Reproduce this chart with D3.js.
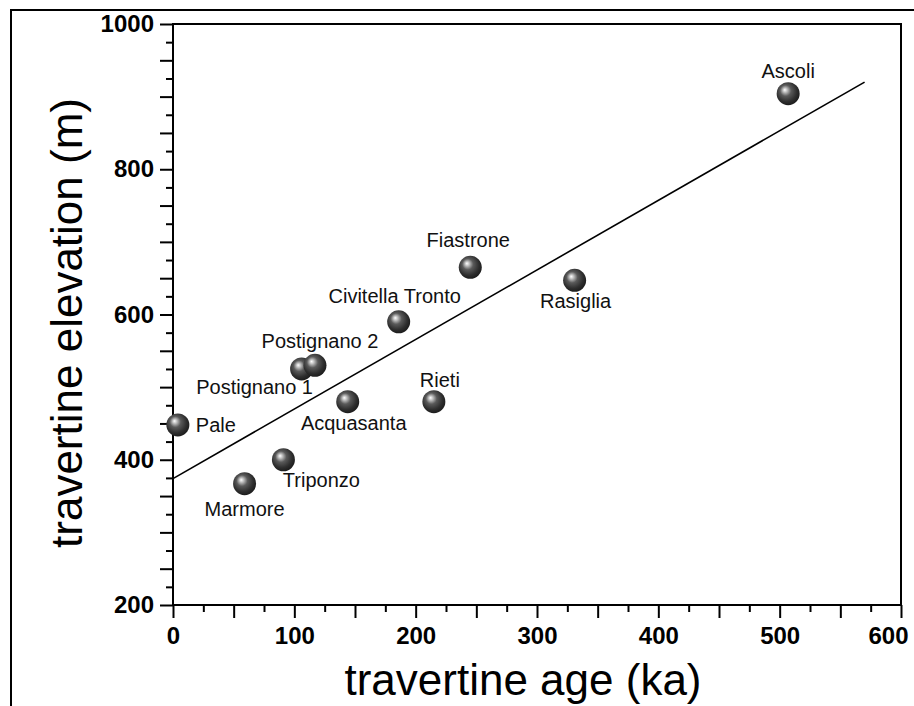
<!DOCTYPE html>
<html>
<head>
<meta charset="utf-8">
<script src="https://cdn.jsdelivr.net/npm/d3@7"></script>
<style>
  body { margin: 0; background: #fff; }
  svg { display: block; font-family: "Liberation Sans", Arial, sans-serif; }
</style>
</head>
<body>
<script>
// travertine sites: age (ka) vs elevation (m)
const sites = ["Pale", "Marmore", "Triponzo", "Postignano 1", "Postignano 2", "Acquasanta",
               "Civitella Tronto", "Rieti", "Fiastrone", "Rasiglia", "Ascoli"];
const ages = [4, 59, 91, 106, 117, 144, 186, 215, 245, 331, 507];
const elevations = [448, 367, 400, 525, 530, 480, 590, 480, 665, 647, 904];

// fitted line at its two ends
const fitAges = [0, 570];
const fitElevations = [374, 920];

const xTickLabels = [0, 100, 200, 300, 400, 500, 600];
const yTickLabels = [200, 400, 600, 800, 1000];

// label placement relative to each point (px), kept apart from the data
const labelPlace = {
  "Pale":             {dx: 18,  dy: 7,   anchor: "start"},
  "Marmore":          {dx: 0,   dy: 32,  anchor: "middle"},
  "Triponzo":         {dx: 38,  dy: 27,  anchor: "middle"},
  "Postignano 1":     {dx: -47, dy: 25,  anchor: "middle"},
  "Postignano 2":     {dx: 5,   dy: -17, anchor: "middle"},
  "Acquasanta":       {dx: 6,   dy: 28,  anchor: "middle"},
  "Civitella Tronto": {dx: -4,  dy: -19, anchor: "middle"},
  "Rieti":            {dx: 6,   dy: -15, anchor: "middle"},
  "Fiastrone":        {dx: -2,  dy: -20, anchor: "middle"},
  "Rasiglia":         {dx: 1,   dy: 28,  anchor: "middle"},
  "Ascoli":           {dx: 0,   dy: -16, anchor: "middle"}
};

const width = 914, height = 706;
const plotLeft = 173, plotRight = 901, plotTop = 24, plotBottom = 605;

const svg = d3.select("body").append("svg")
    .attr("width", width)
    .attr("height", height);

const x = d3.scaleLinear().domain([0, 600]).range([plotLeft, plotRight]);
const y = d3.scaleLinear().domain([200, 1000]).range([plotBottom, plotTop]);

// outer frame (only top and left edges show)
svg.append("path")
    .attr("d", `M11,706V10H914`)
    .attr("fill", "none")
    .attr("stroke", "#000")
    .attr("stroke-width", 2);

// gradient for the spheres
const grad = svg.append("defs").append("radialGradient")
    .attr("id", "ball")
    .attr("cx", "0.45").attr("cy", "0.42").attr("r", "0.6")
    .attr("fx", "0.35").attr("fy", "0.33");
grad.selectAll("stop")
  .data([[0, "#ffffff"], [0.12, "#d0d0d0"], [0.4, "#5a5a5a"], [0.75, "#2e2e2e"], [1, "#1a1a1a"]])
  .join("stop")
    .attr("offset", d => d[0])
    .attr("stop-color", d => d[1]);

// plot box
svg.append("rect")
    .attr("x", plotLeft).attr("y", plotTop)
    .attr("width", plotRight - plotLeft).attr("height", plotBottom - plotTop)
    .attr("fill", "none")
    .attr("stroke", "#000")
    .attr("stroke-width", 2);

const styleAxis = g => {
  g.select(".domain").remove();
  g.selectAll(".tick line").attr("stroke-width", 2);
  g.selectAll(".tick text")
      .attr("font-family", "'Liberation Sans', Arial, sans-serif")
      .attr("font-weight", "bold")
      .attr("font-size", 24)
      .attr("fill", "#000");
};

// x axis: minor ticks every 25, major every 50, labels every 100
svg.append("g")
    .attr("transform", `translate(0,${plotBottom})`)
    .call(d3.axisBottom(x).tickValues(d3.range(25, 600, 50)).tickSize(7).tickFormat(""))
    .call(styleAxis);
svg.append("g")
    .attr("transform", `translate(0,${plotBottom})`)
    .call(d3.axisBottom(x).tickValues(d3.range(0, 601, 50)).tickSize(13).tickPadding(9)
      .tickFormat(d => xTickLabels.includes(d) ? d : ""))
    .call(styleAxis)
    .call(g => g.selectAll(".tick text").filter(d => d === 600)
      .attr("text-anchor", "end").attr("x", 7));

// y axis: minor every 25, major every 50, labels every 200
svg.append("g")
    .attr("transform", `translate(${plotLeft},0)`)
    .call(d3.axisLeft(y).tickValues(d3.range(225, 1000, 50)).tickSize(7).tickFormat(""))
    .call(styleAxis);
svg.append("g")
    .attr("transform", `translate(${plotLeft},0)`)
    .call(d3.axisLeft(y).tickValues(d3.range(200, 1001, 50)).tickSize(13).tickPadding(6)
      .tickFormat(d => yTickLabels.includes(d) ? d : ""))
    .call(styleAxis);

// axis titles
svg.append("text")
    .attr("x", 523).attr("y", 695)
    .attr("text-anchor", "middle")
    .attr("font-size", 44)
    .text("travertine age (ka)");
svg.append("text")
    .attr("transform", "translate(82,323) rotate(-90)")
    .attr("text-anchor", "middle")
    .attr("font-size", 44)
    .text("travertine elevation (m)");

// regression line
svg.append("line")
    .attr("x1", x(fitAges[0])).attr("y1", y(fitElevations[0]))
    .attr("x2", x(fitAges[1])).attr("y2", y(fitElevations[1]))
    .attr("stroke", "#000")
    .attr("stroke-width", 1.6);

const points = sites.map((name, i) => ({name, age: ages[i], elev: elevations[i]}));

svg.append("g").selectAll("circle")
  .data(points)
  .join("circle")
    .attr("cx", d => x(d.age))
    .attr("cy", d => y(d.elev))
    .attr("r", 11.5)
    .attr("fill", "url(#ball)");

svg.append("g").selectAll("text")
  .data(points)
  .join("text")
    .attr("x", d => x(d.age) + labelPlace[d.name].dx)
    .attr("y", d => y(d.elev) + labelPlace[d.name].dy)
    .attr("text-anchor", d => labelPlace[d.name].anchor)
    .attr("font-size", 20)
    .attr("fill", "#111")
    .text(d => d.name);
</script>
</body>
</html>
